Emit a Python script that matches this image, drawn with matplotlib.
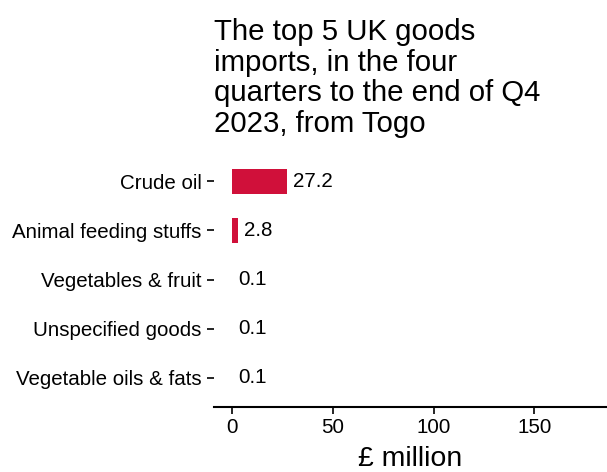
import matplotlib
matplotlib.use("Agg")
import matplotlib.pyplot as plt

categories = ["Crude oil", "Animal feeding stuffs", "Vegetables & fruit", "Unspecified goods", "Vegetable oils & fats"]
values = [27.2, 2.8, 0.1, 0.1, 0.1]
labels = ["27.2", "2.8", "0.1", "0.1", "0.1"]
xticks = [0, 50, 100, 150]

plt.rcParams['font.family'] = ['Liberation Sans', 'DejaVu Sans']

fig = plt.figure(figsize=(6.07, 4.72), dpi=100)
ax = fig.add_axes([214/607, 1-407/472, (607-214)/607, (407-152)/472])

y = list(range(len(categories)))
ax.barh(y, values, height=0.52, color='#D0103A')
for yi, v, lab in zip(y, values, labels):
    ax.text(v + 3, yi, lab, va='center', ha='left', fontsize=14.8, color='black')

ax.set_ylim(len(categories) - 0.4, -0.6)
ax.set_xlim(-9, 186)
ax.set_yticks(y)
ax.set_yticklabels(categories, fontsize=14.8)
ax.set_xticks(xticks)
ax.set_xticklabels([str(t) for t in xticks], fontsize=14.8)
ax.set_xlabel("£ million", fontsize=20.5, labelpad=6.5)

for s in ['top', 'right', 'left']:
    ax.spines[s].set_visible(False)
ax.spines['bottom'].set_linewidth(1.5)
ax.tick_params(axis='y', length=5, width=1.2, pad=4)
ax.tick_params(axis='x', length=5, width=1.2, pad=3)

fig.text(214/607, 1-18/472, "The top 5 UK goods\nimports, in the four\nquarters to the end of Q4\n2023, from Togo",
         fontsize=21.2, ha='left', va='top', linespacing=1.12)

fig.savefig("out.png", dpi=100)
